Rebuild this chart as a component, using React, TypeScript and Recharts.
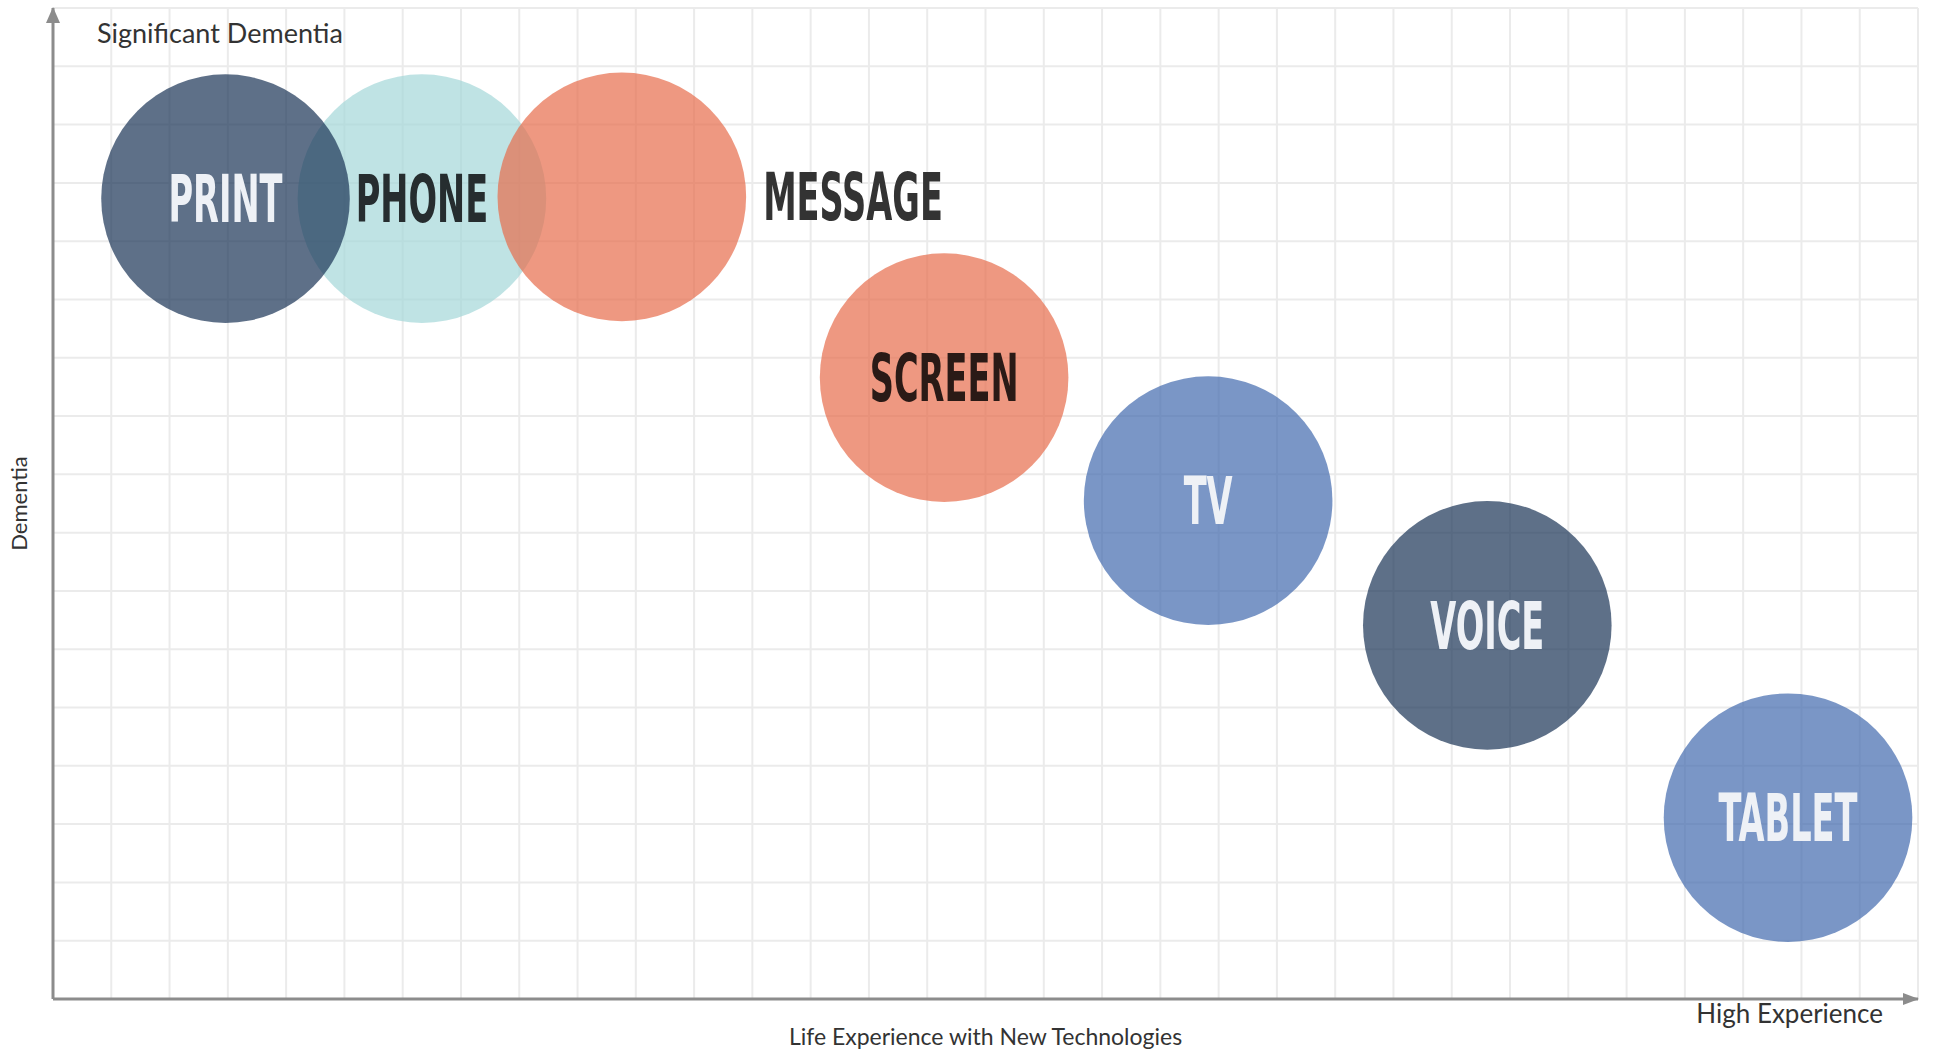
import React from "react";
import {
  ScatterChart,
  Scatter,
  XAxis,
  YAxis,
  CartesianGrid,
  Label,
} from "recharts";

// Categories, drawn in this order (later ones sit on top)
const categories = ["PHONE", "PRINT", "MESSAGE", "SCREEN", "TV", "VOICE", "TABLET"];
// Position on "Life Experience with New Technologies" (grid units)
const experience = [6.33, 2.96, 9.76, 15.29, 19.82, 24.61, 29.77];
// Position on "Dementia" (grid units)
const dementia = [13.73, 13.73, 13.76, 10.66, 8.55, 6.41, 3.11];
// Label placement: inside the bubble or to its right
const labelPlacement = ["center", "center", "right", "center", "center", "center", "center"];

const xTicks = [0, 1, 2, 3, 4, 5, 6, 7, 8, 9, 10, 11, 12, 13, 14, 15, 16, 17, 18, 19, 20, 21, 22, 23, 24, 25, 26, 27, 28, 29, 30, 31, 32];
const yTicks = [0, 1, 2, 3, 4, 5, 6, 7, 8, 9, 10, 11, 12, 13, 14, 15, 16, 17];
const X_DOMAIN: [number, number] = [0, 32];
const Y_DOMAIN: [number, number] = [0, 17];

const BUBBLE_R = 124.3;

const FILL: Record<string, string> = {
  PRINT: "#1a3355",
  VOICE: "#1a3355",
  PHONE: "#a4d7d8",
  MESSAGE: "#e76c4c",
  SCREEN: "#e76c4c",
  TV: "#4269ae",
  TABLET: "#4269ae",
};
const TEXT: Record<string, string> = {
  PRINT: "#eef1f6",
  VOICE: "#eef1f6",
  TV: "#eef1f6",
  TABLET: "#eef1f6",
  PHONE: "#262d2f",
  MESSAGE: "#333333",
  SCREEN: "#2a1a16",
};

const data = categories.map((name, i) => ({
  name,
  x: experience[i],
  y: dementia[i],
  place: labelPlacement[i],
}));

const LABEL_FONT = "'DejaVu Sans Condensed', 'DejaVu Sans', sans-serif";
const AXIS_FONT = "Lato, 'Noto Sans', sans-serif";

const Bubble = (props: any) => {
  const { cx, cy, payload } = props;
  const r = BUBBLE_R;
  const name = payload.name;
  const right = payload.place === "right";
  const tx = right ? cx + r + 17 : cx;
  return (
    <g>
      <circle cx={cx} cy={cy} r={r} fill={FILL[name]} fillOpacity={0.7} />
      <g transform={`translate(${tx}, ${cy}) scale(0.575, 1)`}>
        <text
          x={0}
          y={23.5}
          textAnchor={right ? "start" : "middle"}
          fontFamily={LABEL_FONT}
          fontWeight="bold"
          fontSize={65}
          fill={TEXT[name]}
        >
          {name}
        </text>
      </g>
    </g>
  );
};

const vGen = (p: any) => {
  const s = p?.xAxis?.scale;
  if (typeof s === "function") return xTicks.map((t) => s(t));
  const o = p?.offset;
  if (!o) return [];
  return xTicks.map((t) => o.left + ((t - X_DOMAIN[0]) / (X_DOMAIN[1] - X_DOMAIN[0])) * o.width);
};
const hGen = (p: any) => {
  const s = p?.yAxis?.scale;
  if (typeof s === "function") return yTicks.map((t) => s(t));
  const o = p?.offset;
  if (!o) return [];
  return yTicks.map((t) => o.top + (1 - (t - Y_DOMAIN[0]) / (Y_DOMAIN[1] - Y_DOMAIN[0])) * o.height);
};

export default function App() {
  return (
    <div style={{ position: "absolute", left: 0, top: 0, width: 1937, height: 1055, background: "#fff" }}>
      <svg width={0} height={0} style={{ position: "absolute" }}>
        <defs>
          <marker
            id="arrowX"
            markerUnits="userSpaceOnUse"
            markerWidth={16}
            markerHeight={12}
            viewBox="0 0 16 12"
            refX={15}
            refY={6}
            orient="auto-start-reverse"
          >
            <path d="M0,0 L16,6 L0,12 z" fill="#8c8c8c" />
          </marker>
          <marker
            id="arrowY"
            markerUnits="userSpaceOnUse"
            markerWidth={16}
            markerHeight={14}
            viewBox="0 0 16 14"
            refX={15}
            refY={7}
            orient="auto-start-reverse"
          >
            <path d="M0,0 L16,7 L0,14 z" fill="#8c8c8c" />
          </marker>
        </defs>
      </svg>
      <ScatterChart width={1937} height={1055} margin={{ top: 8, right: 19, bottom: 0, left: 0 }}>
        <CartesianGrid
          stroke="#ebebeb"
          strokeWidth={2}
          verticalCoordinatesGenerator={vGen}
          horizontalCoordinatesGenerator={hGen}
        />
        <XAxis
          type="number"
          dataKey="x"
          domain={X_DOMAIN}
          ticks={xTicks}
          interval={0}
          tick={false}
          tickLine={false}
          height={56}
          axisLine={{ stroke: "#8c8c8c", strokeWidth: 3, markerEnd: "url(#arrowX)" }}
        >
          <Label
            content={(p: any) => {
              const vb = p.viewBox;
              return (
                <g>
                  <text
                    x={vb.x + vb.width / 2}
                    y={vb.y + 46}
                    textAnchor="middle"
                    fontFamily={AXIS_FONT}
                    fontSize={23}
                    fill="#333"
                  >
                    Life Experience with New Technologies
                  </text>
                  <text
                    x={vb.x + vb.width - 35}
                    y={vb.y + 24}
                    textAnchor="end"
                    fontFamily={AXIS_FONT}
                    fontSize={26}
                    fill="#333"
                  >
                    High Experience
                  </text>
                </g>
              );
            }}
          />
        </XAxis>
        <YAxis
          type="number"
          dataKey="y"
          domain={Y_DOMAIN}
          ticks={yTicks}
          interval={0}
          tick={false}
          tickLine={false}
          width={53}
          axisLine={{ stroke: "#8c8c8c", strokeWidth: 3, markerStart: "url(#arrowY)" }}
        >
          <Label
            content={(p: any) => {
              const vb = p.viewBox;
              const cy = vb.y + vb.height / 2;
              return (
                <g>
                  <text
                    transform={`translate(27, ${cy}) rotate(-90)`}
                    textAnchor="middle"
                    fontFamily={AXIS_FONT}
                    fontSize={22}
                    fill="#333"
                  >
                    Dementia
                  </text>
                  <text
                    x={vb.x + vb.width + 44}
                    y={vb.y + 35}
                    textAnchor="start"
                    fontFamily={AXIS_FONT}
                    fontSize={27}
                    fill="#333"
                  >
                    Significant Dementia
                  </text>
                </g>
              );
            }}
          />
        </YAxis>
        <Scatter data={data} shape={<Bubble />} isAnimationActive={false} />
      </ScatterChart>
    </div>
  );
}
